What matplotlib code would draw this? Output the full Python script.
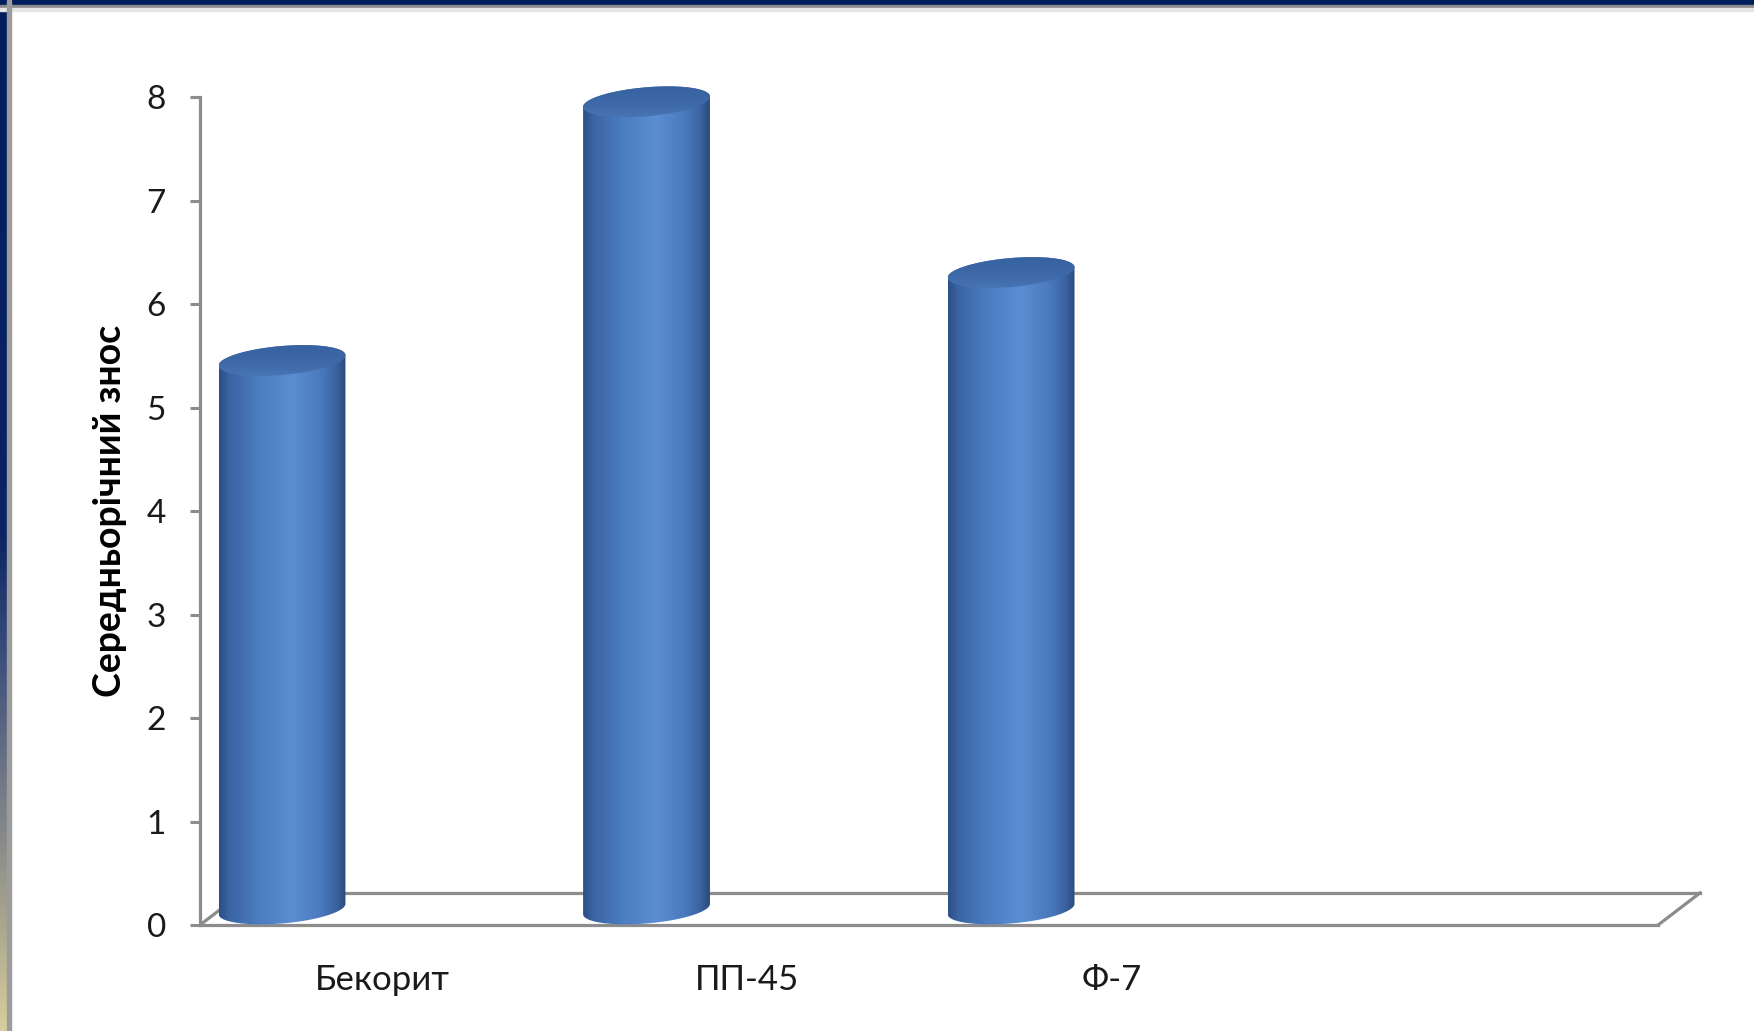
import numpy as np
import matplotlib
matplotlib.use("Agg")
import matplotlib.pyplot as plt
from matplotlib.colors import LinearSegmentedColormap
from matplotlib.patches import Polygon, Rectangle

# data
categories = ["Бекорит", "ПП-45", "Ф-7"]
values = [5.3, 7.8, 6.15]
n_slots = 4          # the chart keeps an empty fourth category slot
y_ticks = [0, 1, 2, 3, 4, 5, 6, 7, 8]
y_label = "Середньорічний знос"

plt.rcParams['font.family'] = ['Lato', 'Open Sans', 'DejaVu Sans']

W, H = 1754, 1031
fig = plt.figure(figsize=(W / 100, H / 100), dpi=100)
fig.patch.set_facecolor('white')

# slide frame: navy top band, navy-to-tan left band
fig.patches.append(Rectangle((0, 1 - 5 / H), 1, 5 / H, transform=fig.transFigure,
                             color='#001d5e', zorder=5))
fig.patches.append(Rectangle((0, 1 - 8 / H), 1, 3 / H, transform=fig.transFigure,
                             color='#8a8a8a', zorder=5))
fig.patches.append(Rectangle((0, 1 - 11 / H), 1, 3 / H, transform=fig.transFigure,
                             color='#e6e6e6', zorder=5))
fig.patches.append(Rectangle((7 / W, 0), 4 / W, 1, transform=fig.transFigure,
                             color='#9c9c9c', zorder=5))
edge_ax = fig.add_axes([0, 0, 7 / W, 1])
edge_cmap = LinearSegmentedColormap.from_list(
    'edge', [(0, '#001d5e'), (0.52, '#0b2463'), (0.62, '#34497a'),
             (0.78, '#7a7f88'), (0.9, '#aaa78e'), (1, '#d8cd9c')])
edge_ax.imshow(np.linspace(0, 1, 256).reshape(-1, 1), aspect='auto', cmap=edge_cmap,
               extent=[0, 1, 1, 0])
edge_ax.axis('off')

# main axes: 364.5 px per category slot, 103.5 px per unit
ax = fig.add_axes([200 / W, 106 / H, 1531 / W, 890 / H])
ax.set_xlim(0, 4.2)
ax.set_ylim(0, 8.6)
ax.patch.set_alpha(0)
grey = '#8c8c8c'
for s in ['top', 'right']:
    ax.spines[s].set_visible(False)
ax.spines['left'].set_bounds(0, 8)
ax.spines['bottom'].set_bounds(0, n_slots)
for s in ['left', 'bottom']:
    ax.spines[s].set_color(grey)
    ax.spines[s].set_linewidth(2.3)
    ax.spines[s].set_zorder(1)

ax.set_yticks(y_ticks)
ax.tick_params(axis='y', length=7.5, width=2.2, color=grey, pad=17,
               labelsize=24, labelcolor='#1a1a1a')
ax.set_xticks(np.arange(len(categories)) + 0.5, categories)
ax.tick_params(axis='x', length=0, pad=28, labelsize=25, labelcolor='#1a1a1a')
ax.set_ylabel(y_label, fontsize=27, fontweight='bold', va='center')
ax.yaxis.set_label_coords(-90 / 1531, 4.0 / 8.6)

# floor parallelogram
dx, dy = 0.115, 0.31
ax.plot([dx, n_slots + dx], [dy, dy], color=grey, lw=2.3, zorder=1)
ax.plot([0, dx], [0, dy], color=grey, lw=2.3, zorder=1)
ax.plot([n_slots, n_slots + dx], [0, dy], color=grey, lw=2.3, zorder=1)

# cylinders
body_cmap = LinearSegmentedColormap.from_list(
    'body', [(0, '#2c4f86'), (0.08, '#3b64a3'), (0.3, '#4a7cc0'), (0.58, '#5b8dd2'),
             (0.8, '#4a7abd'), (0.93, '#3a62a0'), (1, '#2b4a7c')])
cap_cmap = LinearSegmentedColormap.from_list(
    'cap', [(0, '#35609e'), (0.6, '#3f6aa9'), (1, '#4b78b8')])
bar_offset = 0.225
a, b, k = 0.174, 0.14, 0.05
t = np.linspace(0, 2 * np.pi, 200)
grad = np.linspace(0, 1, 256).reshape(1, -1)

for i, v in enumerate(values):
    cx = i + bar_offset
    y0 = dy / 2
    y1 = dy / 2 + v
    tb = np.linspace(np.pi, 2 * np.pi, 100)
    tt = np.linspace(0, np.pi, 100)
    xs = np.concatenate([cx + a * np.cos(tb), cx + a * np.cos(tt)])
    ys = np.concatenate([y0 + b * np.sin(tb) + k * np.cos(tb),
                         y1 + b * np.sin(tt) + k * np.cos(tt)])
    body = Polygon(np.column_stack([xs, ys]), closed=True, fc='none', ec='none')
    ax.add_patch(body)
    im = ax.imshow(grad, aspect='auto', cmap=body_cmap, zorder=3,
                   extent=[cx - a, cx + a, y0 - b - k, y1 + b + k])
    im.set_clip_path(body)

    cap = Polygon(np.column_stack([cx + a * np.cos(t),
                                   y1 + b * np.sin(t) + k * np.cos(t)]),
                  closed=True, fc='none', ec='none')
    ax.add_patch(cap)
    im2 = ax.imshow(np.linspace(0, 1, 64).reshape(-1, 1), aspect='auto', cmap=cap_cmap,
                    zorder=4, extent=[cx - a, cx + a, y1 - b - k, y1 + b + k])
    im2.set_clip_path(cap)

ax.set_xlim(0, 4.2)
ax.set_ylim(0, 8.6)

fig.savefig('out.png', dpi=100, facecolor='white')
